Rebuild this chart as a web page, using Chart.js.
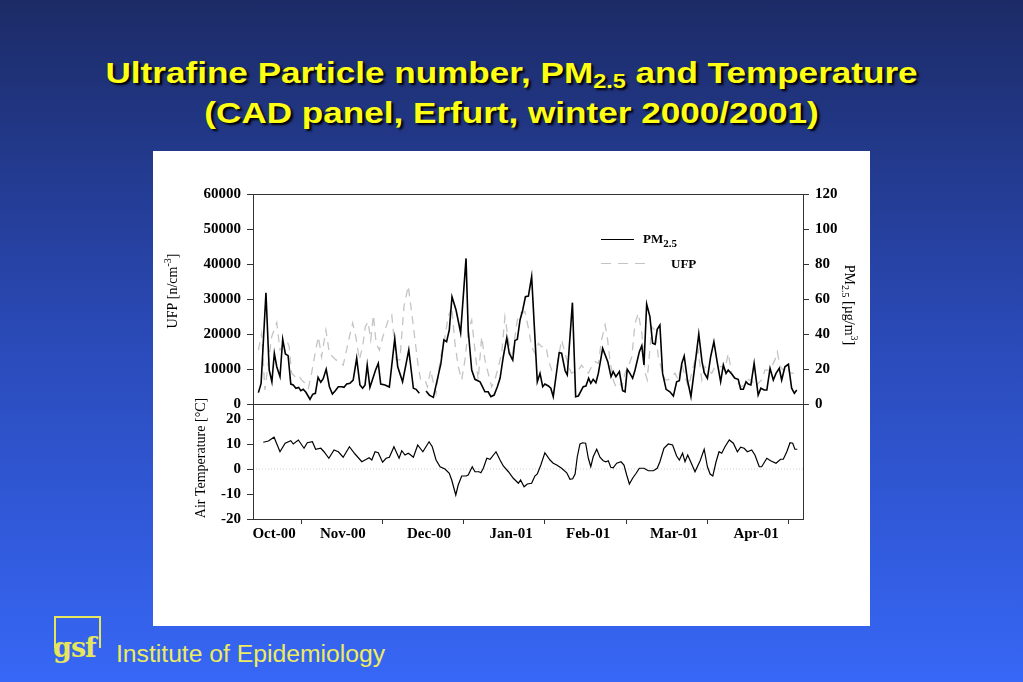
<!DOCTYPE html>
<html><head><meta charset="utf-8">
<script src="https://cdn.jsdelivr.net/npm/chart.js@4.4.1/dist/chart.umd.min.js"></script>
<style>
html,body{margin:0;padding:0;}
body{width:1023px;height:682px;overflow:hidden;position:relative;background:linear-gradient(to bottom,#1c2b66 0%,#2a4ab8 50%,#3767f6 100%);font-family:"Liberation Sans",Arial,sans-serif;}
#title{position:absolute;left:0;top:53px;width:1023px;text-align:center;color:#ffff14;font-weight:bold;font-size:30px;line-height:40px;text-shadow:2px 2px 2px #000;transform:scaleX(1.17);transform-origin:511px 0;}
#title sub{font-size:20px;vertical-align:-5px;line-height:0;}
#panel{position:absolute;left:153px;top:151px;width:717px;height:475px;background:#fff;}
.cw{position:absolute;left:153px;}
#c1w{top:151px;width:717px;height:268px;}
#c2w{top:389px;width:717px;height:237px;}
#logo{position:absolute;left:54px;top:616px;width:43px;height:30px;border:2px solid #e6e65c;border-bottom:none;}
#gsf{position:absolute;left:53px;top:633px;font-family:"DejaVu Serif",serif;font-weight:bold;font-size:27px;color:#e6e65c;letter-spacing:-1px;line-height:30px;}
#inst{position:absolute;left:116px;top:640px;color:#ecec5e;font-size:24.7px;font-weight:normal;line-height:28px;}
</style>
</head><body>
<div id="title">Ultrafine Particle number, PM<sub>2.5</sub> and Temperature<br>(CAD panel, Erfurt, winter 2000/2001)</div>
<div id="panel"></div>
<div class="cw" id="c1w"><canvas id="c1" width="717" height="268"></canvas></div>
<div class="cw" id="c2w"><canvas id="c2" width="717" height="237"></canvas></div>
<div id="logo"></div>
<div id="gsf">gsf</div>
<div id="inst">Institute of Epidemiology</div>
<script>
// ---- x axis (days since axis start) ----
const xMin = 0, xMax = 203.7;
const monthLabels = ['Oct-00','Nov-00','Dec-00','Jan-01','Feb-01','Mar-01','Apr-01'];
const monthLabelDays = [7.8, 33.3, 65.2, 95.6, 124.1, 155.9, 186.3];
const monthTickDays = [18.0, 48.0, 78.1, 108.1, 138.4, 168.4, 198.5];

// ---- axis ticks ----
const ufpTicks = [0,10000,20000,30000,40000,50000,60000];
const pmTicks = [0,20,40,60,80,100,120];
const tempTicks = [-20,-10,0,10,20];
const tempMin = -20, tempMax = 26;

// ---- PM2.5 (µg/m3) ----
const pmDay = [2.0,3.0,4.8,6.0,7.0,7.9,8.8,10.0,11.0,12.0,
13.0,14.0,14.9,15.9,16.9,17.7,18.6,19.6,21.1,22.1,
23.1,24.1,25.1,26.0,27.1,28.3,29.4,30.4,31.6,32.9,
33.7,34.7,35.9,37.1,38.4,39.6,40.6,41.5,42.3,43.3,
44.2,45.4,46.4,47.3,48.9,50.5,52.5,53.6,55.4,57.7,
59.4,60.4,61.6,62.8,64.1,65.3,66.8,69.6,70.7,71.7,
72.7,73.7,75.2,76.9,78.9,79.7,81.0,82.2,84.1,85.9,
87.1,88.1,89.3,90.5,91.5,92.7,94.0,94.9,96.2,97.0,
97.9,98.9,99.9,100.9,102.0,103.2,105.3,106.3,107.3,108.1,
109.4,110.3,111.2,113.4,114.3,115.6,116.4,118.3,119.5,120.5,
122.3,123.3,124.3,125.1,126.0,127.0,127.9,129.5,131.4,132.6,
133.4,134.4,135.7,136.9,137.8,138.6,139.6,140.6,141.5,143.1,
144.0,144.8,145.8,147.0,148.0,148.9,149.7,150.7,151.7,153.0,
154.4,155.7,156.9,157.9,158.8,159.7,160.9,162.2,163.7,165.1,
166.3,167.1,168.3,169.5,170.7,172.0,173.2,174.2,175.2,176.0,
177.3,178.5,179.7,180.6,181.6,182.6,183.4,184.4,185.6,187.1,
188.1,189.3,190.3,191.5,192.7,193.7,194.9,195.8,197.0,198.3,
199.5,200.5,201.4];
const pmVal = [6.5,11.8,63.6,19.4,12.7,29,21.3,15.6,37,28.6,
27.6,11.4,10.9,9,9.5,7.6,8.4,6.7,2.7,5.5,
6.1,15.2,12.4,14.5,19.8,9.9,5.7,7.4,9.9,9.9,
9.5,11.4,11.8,13.7,26.1,10.9,9,10.9,22.3,9.5,
13.7,19.4,23.2,11.4,10.9,9.7,37.5,21.3,12.7,30.9,
9,8.4,6.1,null,7.4,5.1,3.8,23.2,36.6,35.6,
42.3,61.3,53.7,40.7,83.2,42.3,19.4,14.1,12.7,7,
7,4.2,5.1,9.9,14.7,27,37.9,29,25.1,36.2,
37,48,53.7,61.3,61.7,72.8,12.7,17.5,9.9,11.4,
10.3,9,4.2,29.3,29,19,16.6,57.9,4.2,4.6,
9.9,10.3,14.7,11.8,14.1,12.2,17.5,31.8,24.2,15.6,
18.5,15.6,18.5,7.6,7,19.8,17.5,14.7,19.4,29.9,
33.3,22.3,57.1,49.9,34.7,34.1,42.7,45.1,17.5,8.4,
7,4.6,12.7,13.3,23.2,27.4,13.7,4.2,22.3,40,
24.2,17.9,14.7,27,35.6,23.2,12.7,22.3,17.5,19.4,
17.1,14.7,14.1,8.4,8.4,12.7,11.4,10.9,23.2,5.1,
9,8,8,20.4,13.7,17.5,20.4,13.7,21.3,22.7,
9,6.1,8];

// ---- UFP (n/cm3) ----
const ufpDay = [2.0,3.2,4.4,6.9,8.8,10.0,11.2,12.7,13.4,14.3,
15.6,16.8,18.0,19.3,20.5,21.7,23.0,24.2,25.4,27.0,
28.3,29.5,30.7,32.2,33.4,34.4,35.7,36.9,38.1,39.4,
40.6,41.6,42.6,43.6,44.6,45.6,46.8,48.0,50.1,51.4,
53.0,54.4,55.9,57.5,58.8,60.0,61.2,62.1,63.7,64.6,
65.8,66.8,67.8,69.3,71.1,72.3,73.6,74.8,76.0,77.3,
78.5,79.7,81.0,82.2,83.4,84.7,85.9,87.1,88.4,89.6,
90.9,92.1,93.3,94.6,95.8,97.9,98.9,100.7,101.9,103.2,
104.4,105.7,106.9,108.5,109.4,110.6,112.5,114.3,115.6,116.8,
118.0,119.3,120.5,121.7,123.0,124.2,125.4,126.7,127.9,129.1,
130.4,131.2,132.2,133.4,134.4,135.7,136.6,137.8,139.0,140.3,
141.5,142.7,144.0,145.2,146.0,147.7,148.9,150.1,151.4,152.6,
153.8,155.1,156.3,157.5,158.8,160.0,161.2,162.5,163.7,164.9,
166.2,167.4,168.6,169.9,171.1,172.3,173.6,174.8,176.0,177.3,
178.5,179.7,181.0,182.2,183.4,184.7,185.9,187.1,188.4,189.6,
190.9,192.1,193.3,194.2,195.2,196.4,197.7,198.9,200.1,201.4];
const ufpVal = [15400,20200,4000,19200,23200,15400,16400,17800,16400,8800,
7800,8300,6900,5900,4500,8800,14500,19200,13500,21100,
14500,13500,12600,12100,11100,14500,19200,23100,19200,12600,
16400,22100,23500,18300,25400,17300,15400,19000,24000,25400,
12600,12600,27800,33700,25900,18300,10700,6900,6900,4900,
9700,5900,3000,12600,19200,24900,27800,17300,10700,6900,
12600,21100,24000,15400,6900,19200,12600,8800,4900,6900,
10700,14500,24900,18300,12600,24000,25900,26400,22100,16400,
14500,17300,16400,16400,12600,9700,10700,18300,14500,10700,
8800,9200,9700,11100,9700,8800,10700,12100,11600,18300,
22600,19200,12600,6900,4900,5900,4900,8800,10700,13500,
23100,25900,20200,9000,6900,22000,21100,13500,9700,6900,
6900,7800,8800,6900,11600,7800,4900,8800,12600,15400,
6900,10700,9700,8800,10700,10700,10700,9700,14500,8800,
6900,5900,4900,5900,6900,6900,4900,5900,6900,9700,
9700,10700,12600,14900,10700,9700,10700,8800,8800,8800];

// ---- Air temperature (°C) ----
const tempDay = [3.8,5.7,7.8,10.0,11.9,14.0,14.9,16.8,18.9,20.1,
22.0,23.2,25.1,26.3,28.1,30.0,31.6,33.4,35.7,37.8,
40.3,41.5,43.0,44.0,45.2,46.4,48.0,49.3,50.5,52.2,
54.1,55.1,56.3,57.5,58.4,59.4,61.0,62.9,65.2,66.4,
67.8,69.3,71.1,72.7,73.6,75.1,76.0,77.3,78.9,79.7,
81.2,82.2,83.7,84.4,85.3,86.6,87.8,90.0,91.5,92.7,
94.6,96.4,98.3,99.1,100.4,101.6,103.2,104.4,105.3,106.6,
108.1,110.0,111.2,112.5,114.3,116.2,117.4,118.4,119.3,120.1,
121.1,122.1,123.2,124.2,125.1,126.0,127.3,128.5,129.7,130.7,
131.6,132.5,133.4,134.7,136.3,137.4,138.4,139.4,140.6,141.9,
143.1,144.8,146.4,148.3,149.7,150.7,152.2,153.8,155.4,156.9,
157.9,159.1,160.0,161.0,162.1,163.7,165.6,167.1,168.3,169.3,
170.3,171.5,172.6,173.6,174.8,176.4,177.9,179.4,180.6,181.9,
183.1,184.7,185.9,187.5,188.4,190.3,191.7,193.7,195.4,196.4,
197.7,198.9,199.9,200.7,201.6];
const tempVal = [10.7,11.2,12.7,6.9,10.3,11.3,10,11.6,8.3,10.5,
10.9,7.9,8.3,6.9,4.3,7.6,6.9,4.7,8.9,6,
2.9,3.6,4.5,3.6,6.9,6.5,2.7,4.3,4.7,8.9,
4.3,7.3,5.6,6.3,5.6,4.7,9.6,6.9,10.9,8.9,
3.6,0.9,0,-1.7,-4.4,-10.4,-6.4,-2.8,-2.8,-2.4,
0.9,-1.1,-1.1,-1.5,0.3,4.3,3.9,6.9,3.6,1.2,
-1.1,-3.7,-5.7,-4.4,-7.1,-6,-5.7,-2.8,-2,1.6,
6.5,3.6,2.3,1.6,0.3,-1.5,-4.1,-3.9,-2,4.9,
10,10.5,10.3,4.3,0.9,4.9,7.9,4.7,3.3,2.9,
3.3,0.7,0.5,2.3,2.9,1.6,-2.4,-6,-3.7,-1.7,
0.3,0.3,-0.7,-0.7,0.3,2.9,8.3,10,9.6,5.2,
3.6,6.3,2.9,5.6,2.9,-1.1,3.3,7.9,0.9,-2,
-2.8,2.9,6.9,6.3,8.9,11.6,10.3,6.9,8.7,8.3,
6.9,7.6,5.6,0.9,0.9,4.3,3.3,2.3,3.9,3.9,
6.9,10.5,10.3,7.9,7.9];

const zeroLine = [0, 0];

// ---- helpers ----
const pts = (xs, ys) => xs.map((x, i) => ({x: x, y: ys[i]}));
const SERIF = '"Liberation Serif","Times New Roman",serif';
const tickFont = {family: SERIF, size: 15, weight: 'bold'};

function richText(ctx, parts, x, y, rot, size, bold) {
  ctx.save();
  ctx.translate(x, y);
  ctx.rotate(rot);
  ctx.fillStyle = '#000';
  ctx.textBaseline = 'alphabetic';
  const w = (p) => (bold ? 'bold ' : '') + (p.sub || p.sup ? Math.round(size * 0.72) : size) + 'px ' + SERIF;
  let total = 0;
  parts.forEach(p => { ctx.font = w(p); total += ctx.measureText(p.t).width; });
  let cx = -total / 2;
  parts.forEach(p => {
    ctx.font = w(p);
    let dy = size * 0.35;
    if (p.sup) dy -= size * 0.42;
    if (p.sub) dy += size * 0.25;
    ctx.fillText(p.t, cx, dy);
    cx += ctx.measureText(p.t).width;
  });
  ctx.restore();
}

function richLeft(ctx, parts, x, y, size) {
  ctx.save();
  ctx.fillStyle = '#000';
  let cx = x;
  parts.forEach(p => {
    ctx.font = 'bold ' + (p.sub ? Math.round(size * 0.85) : size) + 'px ' + SERIF;
    ctx.fillText(p.t, cx, y + (p.sub ? size * 0.3 : 0));
    cx += ctx.measureText(p.t).width;
  });
  ctx.restore();
}

const framePlugin = {
  id: 'frame',
  afterDraw(chart) {
    const {ctx, chartArea: a} = chart;
    ctx.save();
    ctx.strokeStyle = '#333';
    ctx.lineWidth = 1;
    ctx.strokeRect(Math.round(a.left) + 0.5, Math.round(a.top) + 0.5, Math.round(a.right - a.left), Math.round(a.bottom - a.top));
    ctx.restore();
  }
};

const topDecor = {
  id: 'topDecor',
  afterDraw(chart) {
    const {ctx, chartArea: a} = chart;
    richText(ctx, [{t: 'UFP [n/cm'}, {t: '-3', sup: true}, {t: ']'}], 19, 140, -Math.PI / 2, 14, false);
    richText(ctx, [{t: 'PM'}, {t: '2.5', sub: true}, {t: ' [\u00b5g/m'}, {t: '3', sup: true}, {t: ']'}], 697, 154, Math.PI / 2, 14, false);
    ctx.save();
    ctx.strokeStyle = '#000'; ctx.lineWidth = 1.2;
    ctx.beginPath(); ctx.moveTo(a.left + 348, a.top + 45.5); ctx.lineTo(a.left + 381, a.top + 45.5); ctx.stroke();
    ctx.strokeStyle = '#c4c4c4'; ctx.setLineDash([10, 7]);
    ctx.beginPath(); ctx.moveTo(a.left + 348, a.top + 69.5); ctx.lineTo(a.left + 398, a.top + 69.5); ctx.stroke();
    ctx.restore();
    richLeft(ctx, [{t: 'PM'}, {t: '2.5', sub: true}], a.left + 390, a.top + 49, 13);
    richLeft(ctx, [{t: 'UFP'}], a.left + 418, a.top + 74, 13);
  }
};

const bottomDecor = {
  id: 'bottomDecor',
  afterDraw(chart) {
    richText(chart.ctx, [{t: 'Air Temperature [\u00b0C]'}], 47, 69, -Math.PI / 2, 14, false);
  }
};

const fixTicks = (list) => (s) => { s.ticks = list.map(v => ({value: v})); };
const yAxisBase = (pos, width) => ({
  position: pos,
  afterFit: (s) => { s.width = width; },
  grid: {drawOnChartArea: false, drawTicks: true, tickLength: 6, color: '#333', tickColor: '#333'},
  border: {display: true, color: '#333'},
  ticks: {font: tickFont, color: '#000', padding: 6, callback: (v) => String(v)}
});

// ---- top chart: UFP + PM2.5 ----
new Chart(document.getElementById('c1'), {
  type: 'line',
  data: {
    datasets: [
      {label: 'PM2.5', data: pts(pmDay, pmVal), yAxisID: 'yPM', borderColor: '#000', borderWidth: 1.6, pointRadius: 0, tension: 0, spanGaps: false, fill: false},
      {label: 'UFP', data: pts(ufpDay, ufpVal), yAxisID: 'yUFP', borderColor: '#c4c4c4', borderWidth: 1.3, borderDash: [8, 6], pointRadius: 0, tension: 0, fill: false}
    ]
  },
  options: {
    responsive: false, animation: false, events: [],
    layout: {padding: {top: 43, bottom: 15, left: 0, right: 0}},
    plugins: {legend: {display: false}, tooltip: {enabled: false}},
    scales: {
      x: {type: 'linear', min: xMin, max: xMax, display: false},
      yUFP: Object.assign(yAxisBase('left', 100), {min: 0, max: 60000, afterBuildTicks: fixTicks(ufpTicks)}),
      yPM: Object.assign(yAxisBase('right', 67), {min: 0, max: 120, afterBuildTicks: fixTicks(pmTicks)})
    }
  },
  plugins: [framePlugin, topDecor]
});

// ---- bottom chart: temperature ----
const xTickValues = monthTickDays.concat(monthLabelDays).sort((a, b) => a - b);
new Chart(document.getElementById('c2'), {
  type: 'line',
  data: {
    datasets: [
      {label: 'Temp', data: pts(tempDay, tempVal), yAxisID: 'yT', borderColor: '#000', borderWidth: 1.2, pointRadius: 0, tension: 0, fill: false},
      {label: 'zero', data: pts([xMin, xMax], zeroLine), yAxisID: 'yT', borderColor: '#cfcfcf', borderWidth: 1, borderDash: [1, 2], pointRadius: 0, fill: false}
    ]
  },
  options: {
    responsive: false, animation: false, events: [],
    layout: {padding: {top: 15, bottom: 77, left: 0, right: 67}},
    plugins: {legend: {display: false}, tooltip: {enabled: false}},
    scales: {
      x: {
        type: 'linear', min: xMin, max: xMax,
        afterFit: (s) => { s.height = 30; },
        afterBuildTicks: fixTicks(xTickValues),
        grid: {drawOnChartArea: false, drawTicks: true, tickLength: 5,
          tickColor: (c) => (c.tick && monthTickDays.includes(c.tick.value)) ? '#333' : 'rgba(0,0,0,0)'},
        border: {display: true, color: '#333'},
        ticks: {font: tickFont, color: '#000', padding: 1, autoSkip: false, maxRotation: 0, minRotation: 0,
          callback: (v) => { const i = monthLabelDays.indexOf(v); return i >= 0 ? monthLabels[i] : ''; }}
      },
      yT: Object.assign(yAxisBase('left', 100), {min: tempMin, max: tempMax, afterBuildTicks: fixTicks(tempTicks)})
    }
  },
  plugins: [framePlugin, bottomDecor]
});
</script>
</body></html>
